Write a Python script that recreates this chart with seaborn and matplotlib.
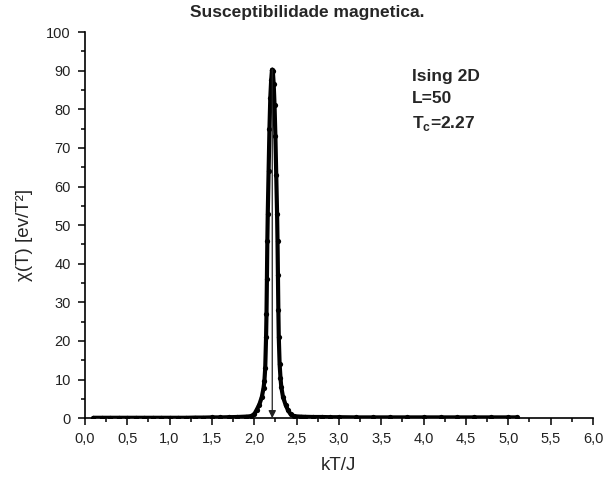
import numpy as np
import pandas as pd
import seaborn as sns
import matplotlib
matplotlib.use("Agg")
import matplotlib.pyplot as plt
from matplotlib.ticker import MultipleLocator, FuncFormatter

# --- data (kT/J vs chi) ---
temp_low = [0.10, 0.20, 0.30, 0.40, 0.50, 0.60, 0.70, 0.80, 0.90, 1.00,
            1.10, 1.20, 1.30, 1.40, 1.50, 1.60, 1.70, 1.80, 1.90]
chi_low = [0.10, 0.10, 0.10, 0.10, 0.10, 0.10, 0.10, 0.10, 0.10, 0.10,
           0.10, 0.10, 0.15, 0.15, 0.20, 0.20, 0.25, 0.30, 0.40]

temp_peak = [1.96, 2.00, 2.03, 2.06, 2.09, 2.11, 2.12, 2.13, 2.14, 2.145,
             2.15, 2.155, 2.16, 2.17, 2.18, 2.19, 2.20, 2.21, 2.213, 2.22,
             2.23, 2.24, 2.25, 2.26, 2.27, 2.275, 2.28, 2.285, 2.29, 2.30,
             2.31, 2.32, 2.34, 2.37, 2.40, 2.43, 2.47]
chi_peak = [0.5, 1.0, 2.2, 3.5, 5.5, 7.8, 9.5, 13.0, 21.0, 27.0,
            36.0, 46.0, 53.0, 64.0, 75.0, 83.0, 87.5, 90.2, 90.3, 89.8,
            86.5, 81.0, 73.0, 63.0, 53.0, 46.0, 37.0, 28.0, 21.0, 14.0,
            10.5, 8.0, 5.5, 3.5, 2.0, 1.0, 0.5]

temp_high = [2.55, 2.60, 2.70, 2.80, 2.90, 3.00, 3.20, 3.40, 3.60, 3.80,
             4.00, 4.20, 4.40, 4.60, 4.80, 5.00, 5.10]
chi_high = [0.40, 0.35, 0.30, 0.30, 0.25, 0.25, 0.20, 0.20, 0.20, 0.20,
            0.20, 0.20, 0.20, 0.20, 0.20, 0.20, 0.20]

df = pd.DataFrame({
    "kT": temp_low + temp_peak + temp_high,
    "chi": chi_low + chi_peak + chi_high,
})

sns.set_style("ticks")
plt.rcParams["font.family"] = ["Liberation Sans", "DejaVu Sans"]
plt.rcParams["mathtext.fontset"] = "custom"
plt.rcParams["mathtext.rm"] = "Liberation Sans"
plt.rcParams["mathtext.bf"] = "Liberation Sans:bold"

fig = plt.figure(figsize=(6.06, 4.79), dpi=100)
ax = fig.add_axes([0.140, 0.127, 0.8385, 0.806])

sns.lineplot(data=df, x="kT", y="chi", color="black", linewidth=3.0,
             marker="o", markersize=3.8, markeredgewidth=0, ax=ax)

# arrow marking the peak position
i_max = df["chi"].idxmax()
t_max = df.loc[i_max, "kT"]
ax.annotate("", xy=(t_max, 0), xytext=(t_max, df.loc[i_max, "chi"]),
            arrowprops=dict(arrowstyle="-|>", color="#222222", lw=0.9,
                            mutation_scale=11, shrinkA=0, shrinkB=0))

ax.set_xlim(0, 6)
ax.set_ylim(0, 100)
ax.xaxis.set_major_locator(MultipleLocator(0.5))
ax.xaxis.set_minor_locator(MultipleLocator(0.25))
ax.yaxis.set_major_locator(MultipleLocator(10))
ax.yaxis.set_minor_locator(MultipleLocator(5))
ax.xaxis.set_major_formatter(FuncFormatter(lambda v, p: f"{v:.1f}".replace(".", ",")))
ax.tick_params(which="major", length=5, width=1.1, labelsize=10.5, color="black",
               labelcolor="#222222", pad=5)
ax.tick_params(which="minor", length=3, width=1.1, color="black")
for s in ["left", "bottom"]:
    ax.spines[s].set_linewidth(1.2)
    ax.spines[s].set_color("black")
sns.despine(ax=ax)

ax.set_xlabel("kT/J", fontsize=13.5, labelpad=8)
ax.set_ylabel("χ(T) [ev/T²]", fontsize=13.5)
ax.yaxis.set_label_coords(-0.103, 0.475)
fig.suptitle("Susceptibilidade magnetica.", fontsize=12.5, fontweight="bold",
             x=0.507, y=0.99, va="top")

ax.text(3.86, 90.5, "Ising 2D\nL=50\nT$_\\mathbf{c}$=2.27", fontsize=12.5,
        fontweight="bold", va="top", ha="left", linespacing=1.6)

fig.savefig("out.png", dpi=100)
